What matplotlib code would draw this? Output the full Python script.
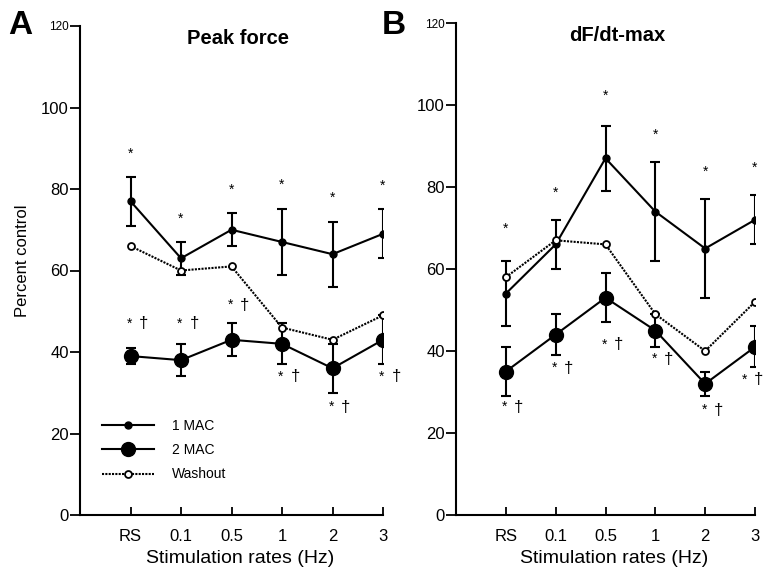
import matplotlib
matplotlib.use("Agg")
import matplotlib.pyplot as plt
from matplotlib.lines import Line2D
import numpy as np

plt.rcParams['font.family'] = ['Liberation Sans', 'DejaVu Sans']

categories = ["RS", "0.1", "0.5", "1", "2", "3"]

# Panel A: Peak force
a_mac1 = [77, 63, 70, 67, 64, 69]
a_mac1_err = [6, 4, 4, 8, 8, 6]
a_mac2 = [39, 38, 43, 42, 36, 43]
a_mac2_err = [2, 4, 4, 5, 6, 6]
a_wash = [66, 60, 61, 46, 43, 49]
a_star = [88.6, 72.6, 79.8, 81, 77.8, 80.8]
a_dag = [47, 47, 51.5, 34, 26.5, 34]

# Panel B: dF/dt-max
b_mac1 = [54, 66, 87, 74, 65, 72]
b_mac1_err = [8, 6, 8, 12, 12, 6]
b_mac2 = [35, 44, 53, 45, 32, 41]
b_mac2_err = [6, 5, 6, 4, 3, 5]
b_wash = [58, 67, 66, 49, 40, 52]
b_star = [69.7, 78.5, 102.2, 92.7, 83.7, 84.6]
b_dag = [26.3, 35.8, 41.5, 38, 25.6, 33]

W, H = 765, 571
fig = plt.figure(figsize=(W / 100, H / 100), dpi=100)

def px_axes(l, r, t, b):
    return fig.add_axes([l / W, 1 - b / H, (r - l) / W, (b - t) / H])

axA = px_axes(80, 383, 26, 515)
axB = px_axes(456, 755, 23, 515)

WASH_LS = (0, (1, 0.6))

def draw(ax, mac1, mac1e, mac2, mac2e, wash, star, dag, title, tx, letter, lx,
         dmax):
    x = np.arange(1, len(categories) + 1)
    ax.errorbar(x, mac1, yerr=mac1e, color='black', lw=1.5, marker='o', ms=5,
                capsize=3.5, capthick=1.5, elinewidth=1.5, zorder=3)
    ax.errorbar(x, mac2, yerr=mac2e, color='black', lw=1.5, marker='o', ms=10,
                capsize=3.5, capthick=1.5, elinewidth=1.5, zorder=3)
    ax.plot(x, wash, color='black', lw=1.5, ls=WASH_LS, marker='o', ms=5,
            mfc='white', mec='black', mew=1.3, zorder=4)
    for xi, s in zip(x, star):
        ax.text(xi, s, '*', ha='center', va='center', fontsize=10)
    for xi, d in zip(x, dag):
        xd = min(xi + 0.26, dmax)
        ax.text(xd - 0.28, d, '*', ha='center', va='center', fontsize=10)
        ax.text(xd, d, '\u2020', ha='center', va='center', fontsize=12)
    ax.set_xlim(0, 6)
    ax.set_ylim(0, 120)
    ax.set_xticks(x)
    ax.set_xticklabels(categories, fontsize=12)
    ax.set_yticks(range(0, 121, 20))
    ax.set_yticklabels([str(v) for v in range(0, 121, 20)], fontsize=12)
    ax.get_yticklabels()[-1].set_fontsize(8.5)
    ax.spines['top'].set_visible(False)
    ax.spines['right'].set_visible(False)
    ax.spines['left'].set_linewidth(1.5)
    ax.spines['bottom'].set_linewidth(1.5)
    ax.tick_params(axis='y', direction='out', length=7, width=1.3, pad=1)
    ax.tick_params(axis='x', direction='in', length=6, width=1.3, pad=10)
    ax.set_xlabel('Stimulation rates (Hz)', fontsize=14)
    ax.xaxis.set_label_coords(0.53, -0.072)
    ax.text(tx, 0.975, title, transform=ax.transAxes, ha='center', va='center',
            fontsize=14.5, fontweight='bold')
    fig.text(lx, 1 - 25 / H, letter, ha='left', va='center', fontsize=24,
             fontweight='bold')

draw(axA, a_mac1, a_mac1_err, a_mac2, a_mac2_err, a_wash, a_star, a_dag,
     'Peak force', 0.52, 'A', 8 / W, 99)
draw(axB, b_mac1, b_mac1_err, b_mac2, b_mac2_err, b_wash, b_star, b_dag,
     'dF/dt-max', 0.54, 'B', 382 / W, 6.07)

axA.set_ylabel('Percent control', fontsize=12)
axA.yaxis.set_label_coords(-0.165, 0.52)

handles = [
    Line2D([], [], color='black', lw=1.5, marker='o', ms=5),
    Line2D([], [], color='black', lw=1.5, marker='o', ms=10),
    Line2D([], [], color='black', lw=1.5, ls=WASH_LS, marker='o', ms=5,
           mfc='white', mec='black', mew=1.3),
]
axA.legend(handles, ['1 MAC', '2 MAC', 'Washout'], loc='lower left',
           bbox_to_anchor=(0.03, 0.043), frameon=False, fontsize=10,
           handlelength=3.8, labelspacing=0.75, handletextpad=1.3)

fig.savefig('out.png', dpi=100)
